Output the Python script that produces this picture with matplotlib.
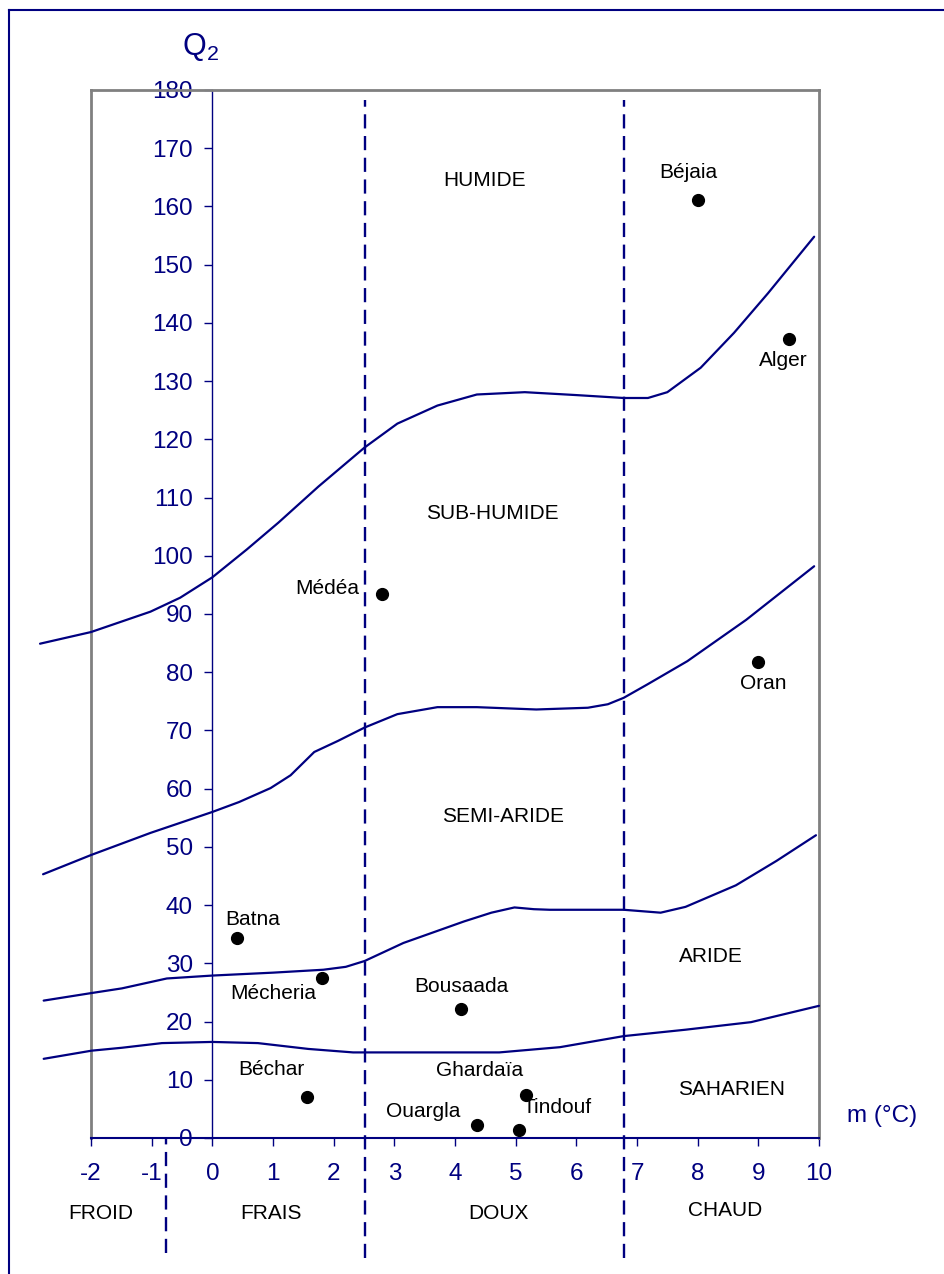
import matplotlib
matplotlib.use('Agg')
import matplotlib.pyplot as plt
from matplotlib.lines import Line2D

plt.rcParams['font.family'] = ['Liberation Sans', 'DejaVu Sans']
plt.rcParams['mathtext.fontset'] = 'custom'
plt.rcParams['mathtext.rm'] = 'Liberation Sans'
plt.rcParams['axes.unicode_minus'] = False

NAVY = '#000080'
GRIS = '#808080'

# Limites des etages bioclimatiques (m en °C, Q2)
humide_m = [-2.84, -2.0, -1.02, -0.53, 0.0, 0.57, 1.09, 1.75, 2.51, 3.05, 3.71, 4.36,
            5.15, 6.0, 6.78, 7.18, 7.5, 8.05, 8.6, 9.16, 9.92]
humide_q = [84.9, 86.9, 90.4, 92.8, 96.3, 101.1, 105.7, 111.9, 118.6, 122.7, 125.8, 127.7,
            128.1, 127.6, 127.1, 127.1, 128.1, 132.3, 138.3, 145.1, 154.8]

subhumide_m = [-2.79, -2.0, -1.02, 0.0, 0.44, 0.96, 1.29, 1.68, 2.07, 2.51, 3.05, 3.71,
               4.36, 5.34, 6.19, 6.52, 6.78, 7.17, 7.83, 8.8, 9.92]
subhumide_q = [45.3, 48.6, 52.4, 56.0, 57.7, 60.1, 62.3, 66.3, 68.2, 70.5, 72.8, 74.0,
               74.0, 73.6, 73.9, 74.5, 75.6, 77.9, 81.9, 89.0, 98.2]

semiaride_m = [-2.78, -1.99, -1.49, -0.75, 0.0, 1.0, 1.83, 2.2, 2.51, 3.15, 4.15, 4.6,
               4.98, 5.3, 5.56, 6.78, 7.39, 7.8, 8.63, 9.3, 9.95]
semiaride_q = [23.6, 24.9, 25.7, 27.4, 27.9, 28.4, 28.9, 29.4, 30.4, 33.5, 37.2, 38.7,
               39.6, 39.3, 39.2, 39.2, 38.7, 39.7, 43.4, 47.6, 52.0]

aride_m = [-2.78, -1.99, -1.49, -0.83, 0.0, 0.75, 1.58, 2.32, 2.51, 4.73, 5.73, 6.78,
           7.8, 8.88, 10.0]
aride_q = [13.6, 15.0, 15.5, 16.3, 16.5, 16.3, 15.3, 14.7, 14.7, 14.7, 15.6, 17.5,
           18.6, 19.9, 22.7]

# Limites des variantes thermiques (pointilles)
variantes_m = [-0.76, 2.51, 6.78]
variantes_haut = [0, 178.3, 178.3]
variantes_bas = [-19.8, -20.6, -20.6]

# Stations
stations = ['Béjaia', 'Alger', 'Médéa', 'Oran', 'Batna', 'Mécheria', 'Bousaada',
            'Béchar', 'Ghardaïa', 'Ouargla', 'Tindouf']
stations_m = [8.0, 9.5, 2.8, 9.0, 0.4, 1.8, 4.1, 1.56, 5.17, 4.37, 5.06]
stations_q = [161.1, 137.2, 93.5, 81.8, 34.3, 27.5, 22.2, 7.1, 7.3, 2.2, 1.3]
etiq_m = [7.84, 9.41, 1.89, 9.08, 0.66, 1.0, 4.11, 0.97, 4.41, 3.47, 5.68]
etiq_q = [165.9, 133.5, 94.3, 78.1, 37.6, 24.8, 26.1, 11.7, 11.6, 4.5, 5.3]

etages = ['HUMIDE', 'SUB-HUMIDE', 'SEMI-ARIDE', 'ARIDE', 'SAHARIEN']
etages_m = [4.48, 4.62, 4.80, 8.22, 8.56]
etages_q = [164.5, 107.3, 55.3, 31.1, 8.4]

hivers = ['FROID', 'FRAIS', 'DOUX', 'CHAUD']
hivers_m = [-1.84, 0.97, 4.71, 8.46]
hivers_q = [-12.9, -12.9, -12.9, -12.5]

fig = plt.figure(figsize=(9.44, 12.74), dpi=100)
ax = fig.add_axes([91 / 944, 1 - 1138 / 1274, (819 - 91) / 944, (1138 - 90) / 1274])

for m, q in [(humide_m, humide_q), (subhumide_m, subhumide_q),
             (semiaride_m, semiaride_q), (aride_m, aride_q)]:
    ax.plot(m, q, color=NAVY, lw=1.6, clip_on=False, zorder=3,
            solid_joinstyle='round', solid_capstyle='round')

for x, y1, y0 in zip(variantes_m, variantes_haut, variantes_bas):
    ax.plot([x, x], [y0, y1], color=NAVY, lw=1.7, dashes=(6, 3.2), clip_on=False, zorder=2)

ax.plot(stations_m, stations_q, 'o', color='black', ms=8.5, zorder=4)
for nom, x, y in zip(stations, etiq_m, etiq_q):
    ax.text(x, y, nom, ha='center', va='center', fontsize=15, color='black')

for nom, x, y in zip(etages, etages_m, etages_q):
    ax.text(x, y, nom, ha='center', va='center', fontsize=15, color='black')

for nom, x, y in zip(hivers, hivers_m, hivers_q):
    ax.text(x, y, nom, ha='center', va='center', fontsize=15, color='black')

ax.text(11.04, 3.7, 'm (°C)', ha='center', va='center', fontsize=17.5, color=NAVY)
ax.text(-0.2, 187.4, r'$\mathregular{Q_2}$', ha='center', va='center', fontsize=22, color=NAVY)

ax.set_xlim(-2, 10)
ax.set_ylim(0, 180)
ax.set_xticks(range(-2, 11))
ax.set_yticks(range(0, 181, 10))

# cadre gris, axes en bleu
ax.spines['left'].set_position(('data', 0))
ax.spines['left'].set_color(NAVY)
ax.spines['left'].set_linewidth(1)
ax.spines['bottom'].set_color(NAVY)
ax.spines['bottom'].set_linewidth(1.5)
for s in ['top', 'right']:
    ax.spines[s].set_color(GRIS)
    ax.spines[s].set_linewidth(2)
ax.plot([-2, -2], [0, 180], color=GRIS, lw=2, clip_on=False, zorder=1)

ax.tick_params(axis='both', direction='out', length=6, width=1, colors=NAVY, labelsize=17.5)
ax.tick_params(axis='x', pad=12)
ax.tick_params(axis='y', pad=8)

# bordure exterieure
x0 = 9 / 944
y0 = 1 - 10 / 1274
fig.add_artist(Line2D([x0, x0], [0, y0], transform=fig.transFigure, color=NAVY, lw=1.5))
fig.add_artist(Line2D([x0, 1], [y0, y0], transform=fig.transFigure, color=NAVY, lw=1.5))

fig.savefig('out.png', dpi=100)
